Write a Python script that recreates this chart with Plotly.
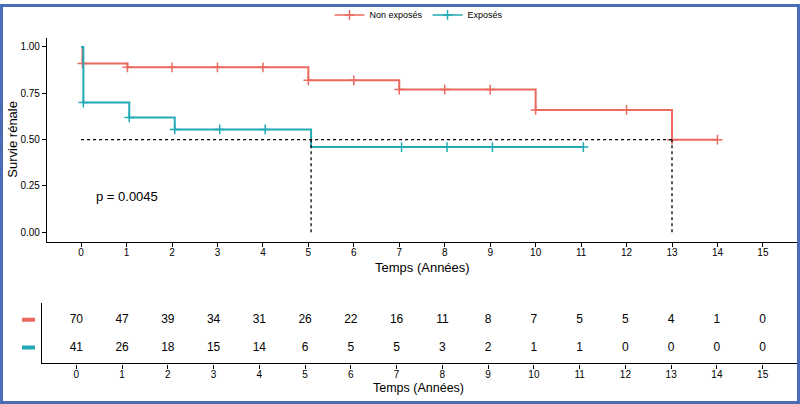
import plotly.graph_objects as go

# ---- data ----
groups = ["Non exposés", "Exposés"]
colors = ["#EA6A5F", "#22AAB5"]

km_time_non = [0.0, 0.03, 1.02, 5.0, 7.0, 10.0, 13.0, 14.0]
km_surv_non = [1.0, 0.91, 0.89, 0.82, 0.77, 0.66, 0.50, 0.50]
cens_time_non = [0.03, 1.02, 2.0, 3.0, 4.0, 5.0, 6.0, 7.0, 8.0, 9.0, 10.0, 12.0, 13.0, 14.0]
cens_surv_non = [0.91, 0.89, 0.89, 0.89, 0.89, 0.82, 0.82, 0.77, 0.77, 0.77, 0.66, 0.66, 0.50, 0.50]

km_time_exp = [0.0, 0.05, 1.06, 2.06, 5.06, 11.05]
km_surv_exp = [1.0, 0.70, 0.62, 0.555, 0.46, 0.46]
cens_time_exp = [0.05, 1.06, 2.06, 3.05, 4.05, 7.05, 8.05, 9.05, 11.05]
cens_surv_exp = [0.70, 0.62, 0.555, 0.555, 0.555, 0.46, 0.46, 0.46, 0.46]

median_times = [13.0, 5.06]
median_level = 0.5

risk_times = list(range(0, 16))
risk_non = [70, 47, 39, 34, 31, 26, 22, 16, 11, 8, 7, 5, 5, 4, 1, 0]
risk_exp = [41, 26, 18, 15, 14, 6, 5, 5, 3, 2, 1, 1, 0, 0, 0, 0]
risk_rows = [2, 1]

y_ticks = [0.0, 0.25, 0.5, 0.75, 1.0]
x_ticks = list(range(0, 16))
p_text = "p = 0.0045"

# ---- figure ----
W, H = 800, 404
FONT = "Arial, Liberation Sans, sans-serif"

def px_x(p):
    return p / W

def px_y(p):
    return (H - p) / H

fig = go.Figure()

series = [
    (km_time_non, km_surv_non, cens_time_non, cens_surv_non),
    (km_time_exp, km_surv_exp, cens_time_exp, cens_surv_exp),
]
for (kt, ks, ct, cs), name, col in zip(series, groups, colors):
    fig.add_trace(go.Scatter(
        x=kt, y=ks, mode="lines", line=dict(color=col, width=2, shape="hv"),
        name=name, showlegend=False, xaxis="x", yaxis="y", hoverinfo="skip"))
    fig.add_trace(go.Scatter(
        x=ct, y=cs, mode="markers",
        marker=dict(symbol="cross-thin", size=7, line=dict(color=col, width=1.5), color=col),
        name=name, showlegend=False, xaxis="x", yaxis="y"))
    # legend entry
    fig.add_trace(go.Scatter(
        x=[None], y=[None], mode="lines+markers", name=name,
        line=dict(color=col, width=1.5),
        marker=dict(symbol="cross-thin", size=7, line=dict(color=col, width=1.5)),
        xaxis="x", yaxis="y"))

# risk table
for vals, row in zip([risk_non, risk_exp], risk_rows):
    fig.add_trace(go.Scatter(
        x=risk_times, y=[row] * len(risk_times), mode="text",
        text=[str(v) for v in vals], textfont=dict(size=12, color="black", family=FONT),
        showlegend=False, xaxis="x2", yaxis="y2", hoverinfo="skip"))

shapes = []
# median lines
shapes.append(dict(type="line", xref="x", yref="y", x0=0, x1=max(median_times),
                   y0=median_level, y1=median_level,
                   line=dict(color="black", width=1.3, dash="3px,3px")))
for mt in median_times:
    shapes.append(dict(type="line", xref="x", yref="y", x0=mt, x1=mt,
                       y0=0, y1=median_level,
                       line=dict(color="black", width=1.3, dash="3px,3px")))
# risk table colour keys
for row, col in zip(risk_rows, colors):
    shapes.append(dict(type="line", xref="paper", yref="y2", x0=px_x(22), x1=px_x(35),
                       y0=row, y1=row, line=dict(color=col, width=4)))
# blue frame
shapes.append(dict(type="rect", xref="paper", yref="paper",
                   x0=px_x(1.5), x1=px_x(W - 1.5), y0=px_y(H - 1.5), y1=px_y(1.5),
                   line=dict(color="#4A6BB5", width=3)))

axis_common = dict(showline=True, linecolor="black", linewidth=1.2, ticks="outside",
                   ticklen=4, tickcolor="black", showgrid=False, zeroline=False,
                   automargin=False, tickfont=dict(size=10, color="black", family=FONT))

fig.update_layout(
    width=W, height=H,
    margin=dict(l=0, r=0, t=0, b=0),
    paper_bgcolor="white", plot_bgcolor="white",
    font=dict(family=FONT, color="black"),
    xaxis=dict(domain=[px_x(47), px_x(797)], range=[-0.75, 15.75],
               tickvals=x_ticks, anchor="y", ticklabelstandoff=-3, **axis_common),
    yaxis=dict(domain=[px_y(240), px_y(34)], range=[-0.05, 1.05],
               tickvals=y_ticks, tickformat=".2f", anchor="x", **axis_common),
    xaxis2=dict(domain=[px_x(42), px_x(797)], range=[-0.75, 15.75],
                tickvals=x_ticks, anchor="y2", ticklabelstandoff=-3, **axis_common),
    yaxis2=dict(domain=[px_y(363), px_y(302)], range=[0.43, 2.6],
                showline=True, linecolor="black", linewidth=1.2, showticklabels=False,
                ticks="", showgrid=False, zeroline=False, anchor="x2"),
    showlegend=True,
    legend=dict(orientation="h", x=px_x(419), xanchor="center", y=px_y(11), yanchor="middle",
                font=dict(size=9, family=FONT, color="black"), itemwidth=30,
                bgcolor="rgba(0,0,0,0)", tracegroupgap=0),
    shapes=shapes,
    annotations=[
        dict(text=p_text, xref="x", yref="y", x=0.28, y=0.195, xanchor="left",
             yanchor="middle", showarrow=False, font=dict(size=13, color="black")),
        dict(text="Survie rénale", xref="paper", yref="paper", x=px_x(13), y=px_y(137),
             textangle=-90, showarrow=False, xanchor="center", yanchor="middle",
             font=dict(size=13, color="black")),
        dict(text="Temps (Années)", xref="paper", yref="paper", x=px_x(422), y=px_y(266),
             showarrow=False, xanchor="center", yanchor="middle",
             font=dict(size=13, color="black")),
        dict(text="Temps (Années)", xref="paper", yref="paper", x=px_x(418), y=px_y(388),
             showarrow=False, xanchor="center", yanchor="middle",
             font=dict(size=12.5, color="black")),
    ],
)

fig.write_html("out.html", config={"displayModeBar": False},
               post_script="document.body.style.margin='0';document.body.style.padding='0';")
